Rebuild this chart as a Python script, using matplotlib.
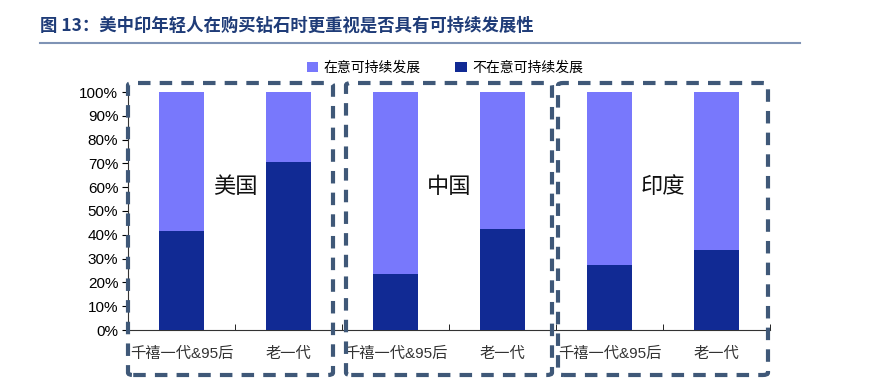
import matplotlib
matplotlib.use("Agg")
import matplotlib.pyplot as plt
import numpy as np
from matplotlib.patches import FancyBboxPatch
from matplotlib.lines import Line2D

plt.rcParams['font.family'] = ['Liberation Sans', 'Noto Sans CJK SC', 'DejaVu Sans']

# data
categories = ["千禧一代&95后", "老一代", "千禧一代&95后", "老一代", "千禧一代&95后", "老一代"]
countries = ["美国", "中国", "印度"]
not_care = [0.415, 0.705, 0.235, 0.425, 0.275, 0.335]
care = [1 - v for v in not_care]

c_care = '#7878fc'
c_not = '#112a94'
c_box = '#3f5878'

W, H = 874, 388
fig = plt.figure(figsize=(W / 100, H / 100), dpi=100)

def fx(px):
  return px / W

def fy(py):
  return 1 - py / H

# title and rule
fig.text(fx(40), fy(26), "图 13：美中印年轻人在购买钻石时更重视是否具有可持续发展性",
         fontsize=12.5, fontweight='bold', color='#1f3c78', va='center', ha='left',
         family=['Noto Sans CJK SC', 'DejaVu Sans'])
fig.add_artist(Line2D([fx(40), fx(800)], [fy(43), fy(43)], color='#7f93b5', lw=1.5))

ax = fig.add_axes([fx(128), fy(330), fx(770) - fx(128), fy(92) - fy(330)])
x = np.arange(len(categories))
ax.bar(x, not_care, width=0.42, color=c_not, label='不在意可持续发展', zorder=3)
ax.bar(x, care, width=0.42, bottom=not_care, color=c_care, label='在意可持续发展', zorder=3)

ax.set_xlim(-0.5, len(categories) - 0.5)
ax.set_ylim(0, 1)
ax.set_yticks(np.arange(0, 1.01, 0.1))
ax.set_yticklabels([f"{int(round(v * 100))}%" for v in np.arange(0, 1.01, 0.1)], fontsize=11)
ax.set_xticks(x)
ax.set_xticklabels(categories, fontsize=11, color='#333333')
ax.set_xticks(np.arange(-0.5, len(categories), 1), minor=True)
ax.tick_params(axis='x', which='major', length=0, pad=12)
ax.tick_params(axis='x', which='minor', length=4, direction='in')
ax.tick_params(axis='y', length=4, direction='out', pad=3)
for s in ['top', 'right']:
  ax.spines[s].set_visible(False)
ax.spines['left'].set_color('#333333')
ax.spines['bottom'].set_color('#333333')

for i, name in enumerate(countries):
  ax.text(2 * i + 0.5, 0.6, name, ha='center', va='center', fontsize=16, color='#111111', zorder=4)

h, l = ax.get_legend_handles_labels()
fig.legend([h[1], h[0]], [l[1], l[0]], loc='center', bbox_to_anchor=(fx(445), fy(68)),
           ncol=2, frameon=False, fontsize=10, handlelength=0.8, handleheight=0.8,
           columnspacing=2.5, handletextpad=0.4)

# dashed group boxes
boxes = [(128, 83, 333, 375), (346, 83, 552, 375), (558, 83, 768, 375)]
for x0, y0, x1, y1 in boxes:
  p = FancyBboxPatch((fx(x0), fy(y1)), fx(x1) - fx(x0), fy(y0) - fy(y1),
                     boxstyle='round,pad=0,rounding_size=0.006', transform=fig.transFigure,
                     fill=False, edgecolor=c_box, lw=3, linestyle=(0, (3, 2.2)), zorder=5)
  fig.add_artist(p)

fig.savefig("out.png", dpi=100)
